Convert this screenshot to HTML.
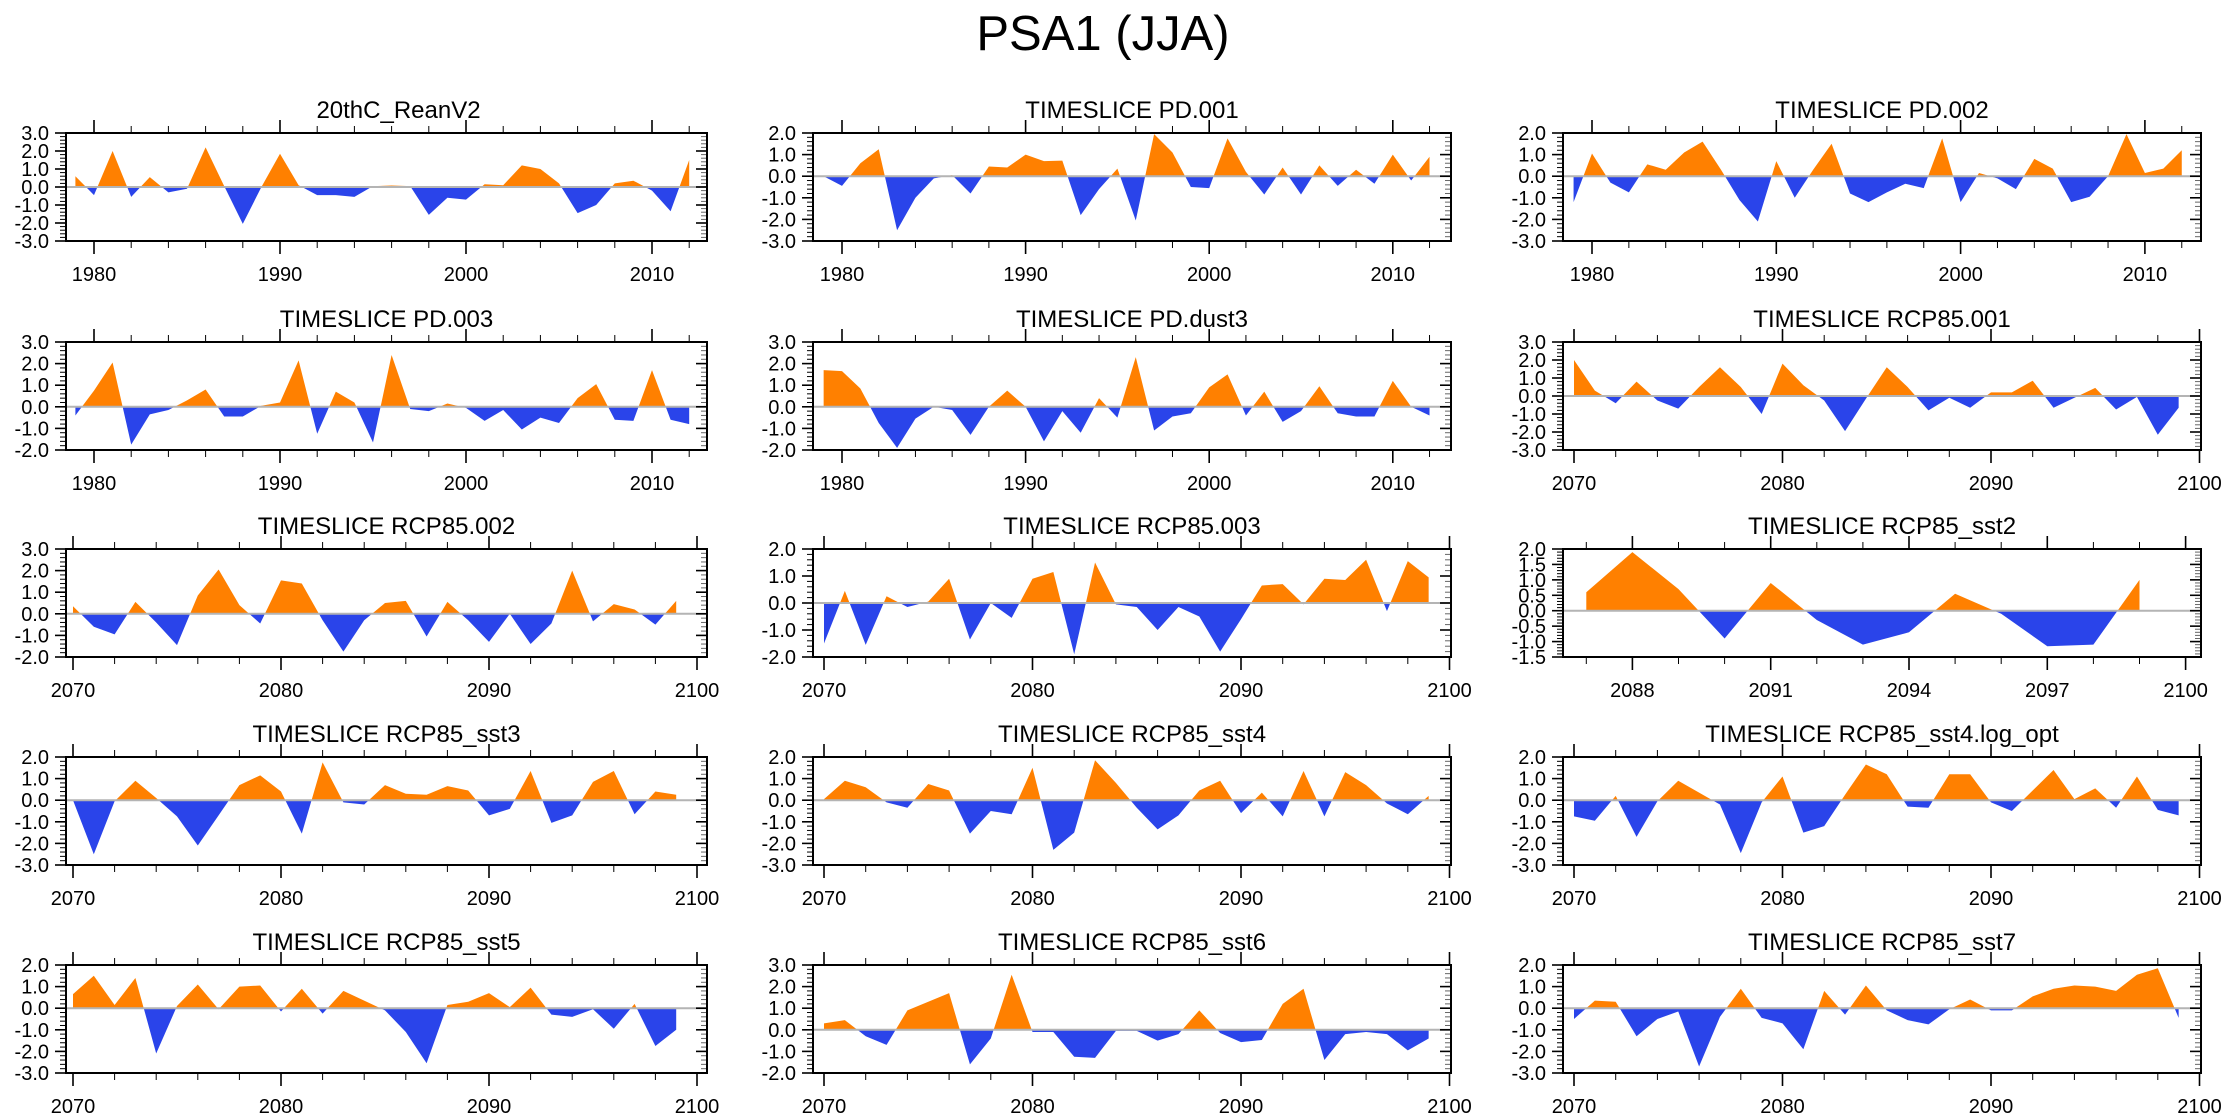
<!DOCTYPE html>
<html>
<head>
<meta charset="utf-8">
<style>
  html,body{margin:0;padding:0;background:#fff;}
  svg{display:block;}
  text{font-family:"Liberation Sans",Arial,sans-serif;fill:#000;}
</style>
</head>
<body>
<svg id="chart" width="2230" height="1120" viewBox="0 0 2230 1120" xmlns="http://www.w3.org/2000/svg">
  <rect x="0" y="0" width="2230" height="1120" fill="#fff"/>
  <text x="1103" y="50" font-size="49" text-anchor="middle">PSA1 (JJA)</text>
</svg>
<script>
// ---- data ----
const panelTitles = ["20thC_ReanV2","TIMESLICE PD.001","TIMESLICE PD.002","TIMESLICE PD.003","TIMESLICE PD.dust3","TIMESLICE RCP85.001","TIMESLICE RCP85.002","TIMESLICE RCP85.003","TIMESLICE RCP85_sst2","TIMESLICE RCP85_sst3","TIMESLICE RCP85_sst4","TIMESLICE RCP85_sst4.log_opt","TIMESLICE RCP85_sst5","TIMESLICE RCP85_sst6","TIMESLICE RCP85_sst7"];
const startYears = [1979,1979,1979,1979,1979,2070,2070,2070,2087,2070,2070,2070,2070,2070,2070];
const yMins = [-3,-3,-3,-2,-2,-3,-2,-2,-1.5,-3,-3,-3,-3,-2,-3];
const yMaxs = [3,2,2,3,3,3,3,2,2,2,2,2,2,3,2];
const ySteps = [1,1,1,1,1,1,1,1,0.5,1,1,1,1,1,1];

const vals20thC = [0.6,-0.45,2.0,-0.55,0.55,-0.3,-0.1,2.2,0.05,-2.05,0.0,1.85,0.1,-0.45,-0.45,-0.55,0.05,0.08,0.05,-1.55,-0.6,-0.7,0.15,0.1,1.2,1.0,0.2,-1.45,-1.0,0.2,0.35,-0.2,-1.35,1.5];
const valsPD001 = [0.0,-0.45,0.6,1.25,-2.5,-1.0,-0.1,0.05,-0.8,0.45,0.4,1.0,0.7,0.72,-1.8,-0.6,0.35,-2.05,1.95,1.1,-0.5,-0.55,1.75,0.2,-0.85,0.4,-0.85,0.5,-0.45,0.3,-0.35,1.0,-0.2,0.9];
const valsPD002 = [-1.2,1.05,-0.3,-0.75,0.55,0.3,1.1,1.6,0.3,-1.1,-2.1,0.7,-1.0,0.3,1.5,-0.8,-1.2,-0.75,-0.35,-0.55,1.75,-1.2,0.15,-0.1,-0.6,0.8,0.35,-1.2,-0.95,0.0,1.95,0.15,0.35,1.2];
const valsPD003 = [-0.4,0.75,2.05,-1.75,-0.35,-0.15,0.3,0.8,-0.45,-0.45,0.05,0.2,2.15,-1.25,0.7,0.2,-1.65,2.4,-0.1,-0.2,0.15,-0.05,-0.65,-0.15,-1.05,-0.5,-0.75,0.4,1.05,-0.6,-0.65,1.7,-0.6,-0.8];
const valsPDdust3 = [1.7,1.65,0.85,-0.75,-1.9,-0.55,0.0,-0.15,-1.3,0.0,0.75,0.0,-1.6,-0.2,-1.2,0.4,-0.5,2.3,-1.1,-0.45,-0.3,0.9,1.5,-0.4,0.7,-0.7,-0.2,0.95,-0.3,-0.45,-0.45,1.2,0.0,-0.4];
const valsRCP001 = [2.0,0.3,-0.4,0.8,-0.25,-0.7,0.5,1.6,0.5,-1.0,1.8,0.6,-0.25,-1.95,-0.15,1.6,0.5,-0.8,-0.1,-0.65,0.2,0.2,0.85,-0.65,-0.1,0.45,-0.75,-0.05,-2.15,-0.65];
const valsRCP002 = [0.35,-0.6,-0.95,0.55,-0.4,-1.45,0.85,2.05,0.4,-0.45,1.55,1.4,-0.3,-1.75,-0.3,0.5,0.6,-1.05,0.55,-0.3,-1.3,0.0,-1.4,-0.45,2.0,-0.35,0.45,0.2,-0.5,0.6];
const valsRCP003 = [-1.5,0.45,-1.55,0.25,-0.15,0.05,0.9,-1.35,0.0,-0.55,0.9,1.15,-1.9,1.5,-0.05,-0.15,-1.0,-0.15,-0.5,-1.8,-0.6,0.65,0.7,-0.05,0.9,0.85,1.6,-0.3,1.55,0.95];
const valsSst2 = [0.6,1.9,0.7,-0.9,0.9,-0.3,-1.1,-0.7,0.55,-0.1,-1.15,-1.1,1.0];
const valsSst3 = [0.0,-2.5,-0.05,0.9,0.1,-0.75,-2.1,-0.7,0.7,1.15,0.4,-1.55,1.75,-0.1,-0.2,0.7,0.3,0.25,0.65,0.45,-0.7,-0.4,1.35,-1.05,-0.7,0.85,1.35,-0.65,0.4,0.25];
const valsSst4 = [0.05,0.9,0.6,-0.1,-0.35,0.75,0.45,-1.55,-0.5,-0.65,1.5,-2.3,-1.5,1.85,0.8,-0.35,-1.35,-0.7,0.45,0.9,-0.6,0.35,-0.75,1.35,-0.75,1.3,0.7,-0.15,-0.65,0.2];
const valsSst4log = [-0.75,-0.95,0.2,-1.7,-0.05,0.9,0.35,-0.2,-2.45,-0.1,1.1,-1.5,-1.2,0.25,1.65,1.2,-0.3,-0.35,1.2,1.2,-0.1,-0.5,0.45,1.4,0.05,0.55,-0.35,1.1,-0.45,-0.7];
const valsSst5 = [0.65,1.5,0.15,1.4,-2.1,0.1,1.1,-0.05,1.0,1.05,-0.15,0.9,-0.25,0.8,0.35,-0.1,-1.1,-2.55,0.15,0.3,0.7,0.05,0.95,-0.3,-0.4,-0.05,-0.95,0.2,-1.75,-1.0];
const valsSst6 = [0.3,0.45,-0.3,-0.7,0.9,1.3,1.7,-1.6,-0.4,2.55,-0.1,-0.1,-1.25,-1.3,-0.05,-0.05,-0.5,-0.2,0.9,-0.15,-0.57,-0.47,1.2,1.9,-1.4,-0.2,-0.1,-0.2,-0.95,-0.4];
const valsSst7 = [-0.5,0.35,0.3,-1.3,-0.5,-0.15,-2.7,-0.4,0.9,-0.45,-0.7,-1.9,0.8,-0.3,1.05,-0.1,-0.55,-0.75,-0.05,0.4,-0.1,-0.1,0.55,0.9,1.05,1.0,0.8,1.55,1.85,-0.45];

const allValues = [vals20thC,valsPD001,valsPD002,valsPD003,valsPDdust3,valsRCP001,valsRCP002,valsRCP003,valsSst2,valsSst3,valsSst4,valsSst4log,valsSst5,valsSst6,valsSst7];
const panelNames = ["20thc-reanv2","pd-001","pd-002","pd-003","pd-dust3","rcp85-001","rcp85-002","rcp85-003","rcp85-sst2","rcp85-sst3","rcp85-sst4","rcp85-sst4-log-opt","rcp85-sst5","rcp85-sst6","rcp85-sst7"];

// ---- layout ----
const rowTops = [133,342,549,757,965];
const boxH = 108;
const colLefts = [66,813,1563];
const colRights = [707,1451,2201];
// x-axis reference: [refYear, refX, pxPerYear, majorStep, minorStep]
const axisRefs = [
  [1980,94,18.6,10,2],[1980,842,18.36,10,2],[1980,1592,18.43,10,2],
  [1980,94,18.6,10,2],[1980,842,18.36,10,2],[2070,1574,20.85,10,2],
  [2070,73,20.8,10,2],[2070,824,20.85,10,2],[2088,1632.4,46.1,3,1],
  [2070,73,20.8,10,2],[2070,824,20.85,10,2],[2070,1574,20.85,10,2],
  [2070,73,20.8,10,2],[2070,824,20.85,10,2],[2070,1574,20.85,10,2]
];
const ORANGE = "#ff8000", BLUE = "#2a44ea";
const NS = "http://www.w3.org/2000/svg";
const svg = document.getElementById("chart");
function mk(tag, attrs, parent){
  const e = document.createElementNS(NS, tag);
  for (const k in attrs) e.setAttribute(k, attrs[k]);
  (parent||svg).appendChild(e);
  return e;
}

for (let p = 0; p < 15; p++){
  const r = Math.floor(p/3), c = p%3;
  const L = colLefts[c], R = colRights[c], T = rowTops[r], B = T + boxH;
  const [refYear, refX, ppy, majStep, minStep] = axisRefs[p];
  const yMin = yMins[p], yMax = yMaxs[p], yStep = ySteps[p];
  const xOf = yr => refX + (yr - refYear) * ppy;
  const yOf = v => B - (v - yMin) / (yMax - yMin) * (B - T);
  const vals = allValues[p], y0 = startYears[p];

  const g = mk("g", {});
  
  

  const t = mk("text", {x:(L+R)/2 + (p===0?12:0), y:T-15, "font-size":24, "text-anchor":"middle"}, g);
  t.textContent = panelTitles[p];
  
  

  const zy = yOf(0);
  const cpA = mk("clipPath", {id:"ca"+p}, g);
  mk("rect", {x:L, y:T, width:R-L, height:zy-T}, cpA);
  const cpB = mk("clipPath", {id:"cb"+p}, g);
  mk("rect", {x:L, y:zy, width:R-L, height:B-zy}, cpB);

  let d = "M" + xOf(y0).toFixed(2) + "," + zy.toFixed(2);
  for (let i = 0; i < vals.length; i++){
    d += " L" + xOf(y0+i).toFixed(2) + "," + yOf(vals[i]).toFixed(2);
  }
  d += " L" + xOf(y0+vals.length-1).toFixed(2) + "," + zy.toFixed(2) + " Z";
  const pa = mk("path", {d:d, fill:ORANGE, "clip-path":"url(#ca"+p+")"}, g);
  
  
  const pb = mk("path", {d:d, fill:BLUE, "clip-path":"url(#cb"+p+")"}, g);
  
  

  const zl = mk("line", {x1:L, x2:R, y1:zy, y2:zy, stroke:"#b4b4b4", "stroke-width":2}, g);
  
  

  const nMinor = Math.round((yMax - yMin) / (yStep/5));
  for (let k = 0; k <= nMinor; k++){
    const v = yMin + k * yStep / 5;
    const yy = yOf(v);
    const major = (k % 5 === 0);
    const len = major ? 11 : 6;
    mk("line", {x1:L-len, x2:L, y1:yy, y2:yy, stroke:"#000", "stroke-width":major?1.6:1}, g);
    mk("line", {x1:R, x2:R-len, y1:yy, y2:yy, stroke:major?"#000":"#666", "stroke-width":major?1.6:1}, g);
    if (major){
      const lb = mk("text", {x:L-17, y:yy+7, "font-size":20, "text-anchor":"end"}, g);
      lb.textContent = v.toFixed(1);
      
      
    }
  }

  const yrLo = Math.ceil(refYear - (refX - L)/ppy), yrHi = Math.floor(refYear + (R - refX)/ppy);
  for (let yr = yrLo; yr <= yrHi; yr++){
    const off = yr - refYear;
    const isMaj = ((off % majStep) + majStep) % majStep === 0;
    const isMin = ((off % minStep) + minStep) % minStep === 0;
    if (!isMaj && !isMin) continue;
    const xx = xOf(yr);
    if (xx < L || xx > R) continue;
    const len = isMaj ? 13 : 7;
    mk("line", {x1:xx, x2:xx, y1:T, y2:T-len, stroke:"#000", "stroke-width":isMaj?1.6:1}, g);
    mk("line", {x1:xx, x2:xx, y1:B, y2:B+len, stroke:"#000", "stroke-width":isMaj?1.6:1}, g);
    if (isMaj){
      const lb = mk("text", {x:xx, y:B+40, "font-size":20, "text-anchor":"middle"}, g);
      lb.textContent = String(yr);
      
      
    }
  }

  const bx = mk("rect", {x:L, y:T, width:R-L, height:B-T, fill:"none", stroke:"#000", "stroke-width":2}, g);
  
  
}
</script>
</body>
</html>
